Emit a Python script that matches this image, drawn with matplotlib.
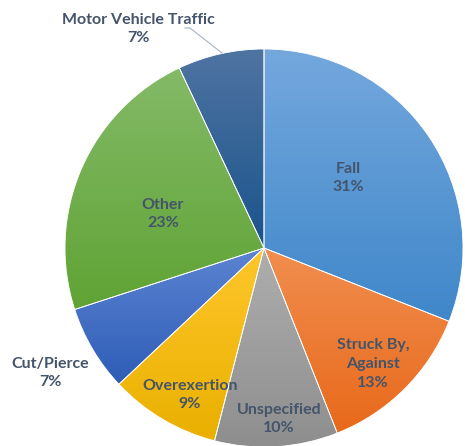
import numpy as np
import matplotlib
matplotlib.use("Agg")
import matplotlib.pyplot as plt
from matplotlib.colors import LinearSegmentedColormap

labels = ["Fall", "Struck By,\nAgainst", "Unspecified", "Overexertion", "Cut/Pierce", "Other", "Motor Vehicle Traffic"]
values = [31, 13, 10, 9, 7, 23, 7]

top_colors = ["#74A8DD", "#F18E50", "#AEAEAE", "#FFC62C", "#5C84D2", "#84BA68", "#4F74A2"]
bot_colors = ["#3F87CA", "#E8691A", "#8E8E8E", "#E9B000", "#2E5CB6", "#60A334", "#1A538C"]

# label positions in pixel coords (x, y from top)
label_pos = [(348, 178), (373, 364), (279, 419), (190, 395), (50, 373), (163, 214), (138, 29)]

W, H = 465, 446
fig = plt.figure(figsize=(W / 100, H / 100), dpi=100)
ax = fig.add_axes([0, 0, 1, 1])

cx, cy, r = 264, H - 248, 199
wedges, _ = ax.pie(values, startangle=90, counterclock=False, center=(cx, cy),
                   radius=r, frame=True,
                   wedgeprops=dict(linewidth=0.6, edgecolor="white"))
ax.set_xlim(0, W)
ax.set_ylim(0, H)
ax.set_aspect("equal")
ax.axis("off")

for w, tc, bc in zip(wedges, top_colors, bot_colors):
    bb = w.get_path().get_extents(w.get_patch_transform())
    cmap = LinearSegmentedColormap.from_list("g", [bc, tc])
    grad = np.linspace(0, 1, 256).reshape(-1, 1)
    im = ax.imshow(grad, cmap=cmap, origin="lower", aspect="auto",
                   extent=(bb.x0, bb.x1, bb.y0, bb.y1), zorder=1)
    im.set_clip_path(w)
    w.set_facecolor("none")
    w.set_zorder(2)
ax.set_xlim(0, W)
ax.set_ylim(0, H)

txtc = "#44546A"
fs = 11.5
for lab, v, (x, y) in zip(labels, values, label_pos):
    ax.text(x, H - y, f"{lab}\n{v}%", ha="center", va="center", color=txtc,
            fontsize=fs, fontweight="bold", family="Lato", linespacing=1.45, zorder=5)

# leader line for Motor Vehicle Traffic
lx = [185, 190, 222]
ly = [28, 28, 53]
ax.plot(lx, [H - v for v in ly], color="#A6B4C4", lw=0.8, zorder=4)

fig.savefig("out.png", dpi=100)
